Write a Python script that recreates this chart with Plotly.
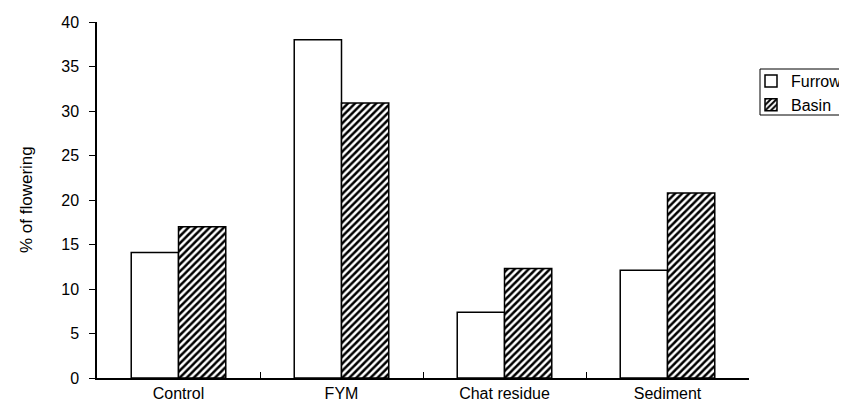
import plotly.graph_objects as go

categories = ["Control", "FYM", "Chat residue", "Sediment"]
furrow = [14.1, 38.0, 7.4, 12.1]
basin = [17.0, 30.9, 12.3, 20.8]
y_ticks = [0, 5, 10, 15, 20, 25, 30, 35, 40]

FONT = "Liberation Sans, Arial, sans-serif"

L, R, T, B = 89, 106, 14, 46
W, H = 847, 416
PW, PH = W - L - R, H - T - B


def px(x):
    return (x - L) / PW


def py(y):
    return (H - B - y) / PH


fig = go.Figure()
fig.add_trace(go.Bar(
    x=categories, y=furrow, name="Furrow",
    marker=dict(color="white", line=dict(color="black", width=1.5)),
))
fig.add_trace(go.Bar(
    x=categories, y=basin, name="Basin",
    marker=dict(color="white", line=dict(color="black", width=1.5),
                pattern=dict(shape="/", size=5, solidity=0.5,
                             fgcolor="black", bgcolor="white", fillmode="replace")),
))

fig.update_layout(
    width=W, height=H,
    margin=dict(l=L, r=R, t=T, b=B, autoexpand=False),
    paper_bgcolor="white", plot_bgcolor="white",
    font=dict(family=FONT, size=16, color="black"),
    barmode="group", bargap=0.42, bargroupgap=0,
    showlegend=True,
    legend=dict(x=px(743), xanchor="left", y=py(56), yanchor="top",
                bgcolor="rgba(0,0,0,0)", borderwidth=0,
                font=dict(family=FONT, size=16, color="black"),
                itemwidth=30, tracegroupgap=0),
    xaxis=dict(showline=True, linecolor="black", linewidth=1.5,
               ticks="inside", ticklen=6, tickcolor="black", tickwidth=1,
               tickson="boundaries", showgrid=False,
               tickfont=dict(family=FONT, size=16), ticklabelstandoff=0),
    yaxis=dict(range=[0, 40], tickvals=y_ticks, showline=True, linecolor="black",
               linewidth=1.5, ticks="outside", ticklen=6, tickcolor="black",
               showgrid=False, zeroline=False,
               tickfont=dict(family=FONT, size=16), ticklabelstandoff=7),
    annotations=[dict(text="% of flowering", xref="paper", yref="paper",
                      x=px(18), y=0.5, xanchor="center", yanchor="middle",
                      textangle=-90, showarrow=False,
                      font=dict(family=FONT, size=17, color="black"))],
    shapes=[dict(type="rect", xref="paper", yref="paper",
                 x0=px(752), x1=px(900),
                 y0=py(107), y1=py(61),
                 line=dict(color="black", width=1), fillcolor="rgba(0,0,0,0)")],
)

fig.write_html("out.html")
